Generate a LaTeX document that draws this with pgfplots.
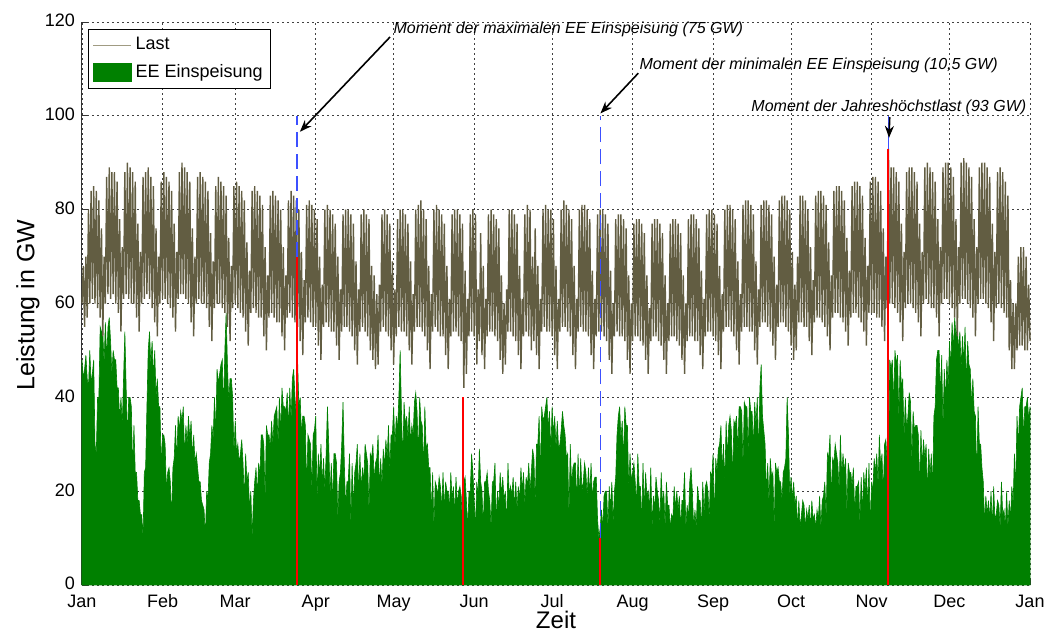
\documentclass[border=0pt]{standalone}
\usepackage{fontspec}
\setmainfont{Liberation Sans}
\usepackage{pgfplots}
\pgfplotsset{compat=1.18}
\usetikzlibrary{arrows.meta}
\definecolor{eegreen}{RGB}{0,128,0}
\definecolor{lastcol}{RGB}{98,93,66}
\definecolor{lastleg}{RGB}{160,155,130}
\definecolor{mblue}{RGB}{60,80,255}
\begin{document}
\begin{tikzpicture}
\begin{axis}[
 at={(0,0)}, anchor=south west,
 scale only axis, width=474pt, height=281.5pt,
 xmin=0, xmax=365, ymin=0, ymax=120,
 axis lines=left, axis line style={-, black!80, line width=0.5pt},
 xtick={0,31,59,90,120,151,181,212,243,273,304,334,365},
 xticklabels={Jan,Feb,Mar,Apr,May,Jun,Jul,Aug,Sep,Oct,Nov,Dec,Jan},
 ytick={0,20,...,120},
 grid=major, grid style={black!75, line width=0.4pt, dash pattern=on 1pt off 1.5pt},
 tick align=inside, major tick length=3pt, tick style={black!80, line width=0.4pt},
 /pgf/number format/assume math mode=true,
 tick label style={font=\fontsize{9}{10}\selectfont},
 xticklabel style={yshift=-1.3pt},
 yticklabel style={yshift=0.6pt},
 xlabel={Zeit}, ylabel={Leistung in GW},
 label style={font=\fontsize{12.5}{14}\selectfont},
 xlabel style={at={(axis description cs:0.5,-0.0770)}, anchor=base, font=\fontsize{12}{14}\selectfont},
 ylabel style={at={(axis description cs:-0.057,0.497)}, anchor=center},
 legend style={at={(rel axis cs:0.0063,0.9876)}, anchor=north west, draw=black, line width=0.5pt,
   font=\fontsize{9}{10}\selectfont, inner xsep=2pt, inner ysep=2pt, row sep=2pt},
 legend cell align=left,
 clip=false,
]
\addlegendimage{legend image code/.code={\draw[lastleg, line width=0.6pt] (0pt,0pt) -- (19pt,0pt);}}
\addlegendentry{Last}
\addlegendimage{legend image code/.code={\fill[eegreen] (0pt,-4.5pt) rectangle (19pt,4.5pt);}}
\addlegendentry{EE Einspeisung}

% EE Einspeisung (2 values per day)
\addplot[fill=eegreen, draw=eegreen, line width=0.3pt, forget plot] table[row sep=\\, header=false, x expr=\coordindex*0.5, y index=0] {
48\\44\\46\\49\\44\\42\\50\\43\\45\\48\\30\\28\\40\\40\\
55\\54\\54\\47\\56\\48\\55\\57\\52\\45\\50\\48\\48\\42\\
42\\35\\40\\34\\44\\54\\42\\31\\40\\40\\38\\24\\34\\24\\
24\\18\\18\\15\\15\\10\\24\\25\\38\\50\\54\\47\\52\\44\\
50\\40\\44\\38\\38\\25\\32\\32\\30\\20\\24\\25\\22\\14\\
25\\27\\34\\26\\36\\33\\37\\35\\38\\27\\34\\30\\36\\31\\
35\\27\\32\\26\\28\\25\\22\\22\\18\\17\\16\\10\\20\\18\\
26\\28\\34\\31\\40\\32\\46\\43\\45\\47\\48\\37\\50\\58\\
47\\39\\44\\44\\40\\28\\35\\28\\30\\26\\28\\31\\26\\18\\
28\\22\\24\\16\\20\\10\\18\\22\\25\\19\\26\\23\\32\\32\\
30\\18\\34\\32\\32\\29\\35\\30\\36\\37\\38\\30\\40\\32\\
42\\38\\38\\37\\41\\33\\42\\35\\44\\46\\40\\36\\48\\38\\
40\\32\\36\\36\\34\\20\\32\\31\\30\\20\\32\\33\\36\\18\\
28\\23\\30\\21\\27\\20\\28\\38\\30\\19\\26\\17\\28\\28\\
26\\14\\22\\24\\30\\39\\26\\16\\22\\22\\28\\12\\26\\16\\
24\\26\\30\\19\\28\\20\\25\\22\\30\\28\\26\\15\\28\\27\\
30\\22\\26\\27\\32\\20\\27\\21\\29\\25\\31\\27\\34\\24\\
32\\32\\38\\29\\36\\33\\40\\50\\37\\26\\39\\34\\36\\31\\
38\\30\\34\\32\\39\\41\\37\\27\\40\\35\\34\\24\\38\\29\\
30\\25\\25\\15\\24\\12\\22\\21\\19\\23\\21\\16\\24\\16\\
22\\20\\20\\16\\24\\18\\21\\15\\23\\17\\20\\21\\19\\12\\
22\\23\\18\\12\\20\\20\\28\\24\\18\\12\\22\\19\\29\\22\\
20\\12\\22\\22\\24\\20\\18\\12\\22\\22\\26\\13\\20\\16\\
24\\19\\23\\18\\20\\12\\26\\19\\21\\19\\23\\16\\22\\16\\
21\\18\\25\\20\\24\\17\\23\\21\\26\\20\\24\\29\\27\\17\\
30\\30\\36\\23\\38\\35\\36\\38\\40\\33\\37\\28\\38\\32\\
36\\29\\35\\29\\30\\33\\37\\34\\32\\27\\28\\14\\30\\21\\
25\\26\\26\\17\\28\\18\\27\\20\\22\\26\\24\\19\\25\\19\\
26\\18\\22\\23\\23\\14\\10\\12\\16\\12\\19\\20\\20\\12\\
21\\16\\22\\13\\20\\23\\32\\36\\38\\31\\35\\26\\38\\34\\
34\\20\\28\\22\\24\\26\\22\\17\\28\\21\\21\\13\\26\\16\\
24\\19\\20\\16\\25\\12\\19\\16\\23\\20\\18\\13\\24\\17\\
20\\12\\22\\17\\17\\12\\15\\14\\21\\16\\20\\16\\19\\12\\
18\\18\\24\\12\\17\\14\\22\\25\\20\\12\\16\\12\\21\\18\\
18\\12\\22\\15\\21\\22\\20\\14\\24\\23\\28\\13\\27\\24\\
29\\30\\34\\24\\30\\21\\35\\27\\34\\36\\33\\22\\35\\34\\
36\\28\\38\\38\\37\\25\\39\\38\\38\\28\\40\\37\\37\\29\\
39\\34\\40\\27\\42\\47\\36\\33\\30\\19\\26\\17\\27\\23\\
24\\12\\26\\24\\25\\22\\22\\18\\24\\25\\27\\40\\32\\19\\
23\\18\\22\\17\\19\\12\\18\\12\\15\\18\\17\\12\\16\\14\\
17\\12\\18\\14\\15\\12\\16\\14\\19\\12\\18\\19\\22\\14\\
28\\27\\32\\18\\27\\26\\30\\28\\26\\20\\32\\23\\28\\24\\
27\\15\\26\\24\\24\\21\\25\\15\\21\\21\\22\\13\\23\\15\\
24\\20\\25\\16\\26\\12\\22\\20\\27\\24\\28\\21\\32\\25\\
28\\19\\30\\31\\26\\20\\48\\46\\48\\38\\50\\47\\49\\35\\
48\\42\\44\\31\\40\\33\\36\\41\\39\\26\\37\\33\\34\\34\\
32\\20\\33\\25\\31\\27\\30\\19\\29\\23\\28\\20\\36\\38\\
48\\50\\50\\40\\49\\33\\46\\39\\48\\42\\52\\46\\56\\50\\
57\\53\\55\\50\\54\\46\\53\\47\\55\\42\\52\\47\\46\\38\\
44\\37\\36\\22\\38\\30\\30\\25\\22\\13\\19\\15\\18\\14\\
20\\12\\21\\14\\15\\18\\17\\12\\22\\15\\16\\12\\20\\12\\
18\\14\\21\\17\\28\\20\\36\\29\\38\\40\\42\\31\\38\\38\\
40\\35\\38\\
} \closedcycle;

% Last (night trough and daily peak)
\addplot[lastcol, line width=0.7pt, forget plot] table[row sep=\\, header=false, x expr=\coordindex*0.5, y index=0] {
60\\68\\55\\70\\57\\80\\60\\84\\61\\85\\60\\84\\59\\82\\
57\\76\\53\\70\\60\\87\\62\\89\\61\\88\\62\\88\\60\\86\\
58\\78\\54\\72\\61\\88\\62\\90\\61\\89\\60\\88\\60\\86\\
57\\77\\54\\71\\60\\87\\61\\88\\62\\89\\61\\87\\59\\85\\
56\\76\\53\\70\\60\\86\\61\\88\\61\\87\\60\\86\\59\\84\\
57\\77\\54\\71\\61\\88\\62\\90\\62\\89\\61\\88\\60\\86\\
56\\76\\53\\70\\60\\87\\61\\88\\60\\87\\60\\86\\59\\84\\
55\\75\\52\\69\\59\\85\\60\\87\\60\\86\\59\\85\\58\\83\\
55\\74\\52\\68\\59\\85\\60\\86\\59\\85\\58\\84\\57\\82\\
54\\73\\51\\67\\58\\84\\59\\85\\58\\84\\57\\83\\57\\81\\
53\\72\\50\\66\\57\\83\\58\\84\\57\\83\\56\\82\\56\\80\\
53\\72\\50\\66\\57\\82\\58\\84\\57\\83\\56\\82\\55\\80\\
52\\71\\49\\65\\56\\81\\57\\82\\56\\81\\55\\80\\55\\78\\
51\\70\\48\\64\\55\\80\\56\\81\\55\\80\\54\\79\\54\\77\\
51\\70\\48\\63\\54\\79\\55\\80\\55\\80\\54\\79\\53\\77\\
50\\69\\47\\63\\54\\79\\55\\80\\54\\79\\53\\78\\50\\68\\
48\\66\\46\\62\\47\\64\\54\\79\\55\\80\\54\\79\\53\\77\\
50\\69\\47\\63\\53\\78\\55\\80\\54\\80\\54\\79\\53\\77\\
50\\69\\47\\62\\54\\80\\55\\81\\55\\82\\54\\80\\53\\78\\
50\\68\\46\\62\\54\\80\\55\\81\\54\\80\\53\\79\\53\\77\\
49\\68\\46\\61\\53\\79\\54\\80\\54\\80\\53\\79\\52\\77\\
42\\67\\45\\61\\53\\79\\54\\80\\53\\79\\47\\63\\52\\75\\
49\\68\\46\\61\\53\\79\\54\\80\\54\\79\\53\\78\\52\\76\\
48\\66\\45\\60\\47\\63\\54\\80\\54\\80\\53\\79\\52\\77\\
49\\68\\46\\61\\53\\79\\54\\81\\53\\80\\50\\70\\52\\76\\
49\\68\\46\\61\\54\\80\\55\\81\\54\\80\\54\\80\\53\\78\\
49\\68\\46\\61\\54\\80\\55\\82\\55\\81\\54\\80\\53\\78\\
49\\68\\46\\61\\54\\80\\55\\81\\54\\81\\54\\80\\53\\78\\
49\\67\\46\\61\\53\\79\\54\\80\\54\\80\\53\\79\\52\\77\\
48\\67\\45\\60\\53\\78\\54\\79\\53\\79\\53\\78\\52\\76\\
48\\66\\45\\60\\52\\77\\53\\78\\53\\78\\52\\77\\51\\75\\
48\\66\\45\\59\\52\\77\\53\\78\\53\\78\\52\\77\\51\\75\\
48\\66\\45\\60\\52\\77\\53\\78\\53\\78\\52\\77\\51\\75\\
48\\66\\45\\60\\52\\78\\53\\79\\53\\79\\52\\78\\52\\76\\
49\\67\\46\\61\\53\\79\\54\\80\\54\\80\\53\\79\\52\\77\\
49\\68\\46\\62\\54\\80\\55\\81\\55\\81\\54\\80\\53\\78\\
50\\69\\47\\62\\54\\81\\55\\82\\55\\82\\54\\81\\54\\79\\
50\\69\\47\\63\\55\\81\\56\\82\\56\\82\\55\\81\\54\\79\\
51\\70\\48\\64\\55\\82\\56\\83\\56\\83\\55\\82\\54\\80\\
51\\71\\48\\64\\50\\70\\56\\83\\56\\83\\55\\82\\55\\80\\
52\\72\\49\\65\\56\\83\\57\\84\\57\\84\\56\\83\\55\\81\\
53\\73\\50\\66\\57\\84\\58\\85\\58\\85\\57\\84\\56\\82\\
54\\74\\51\\67\\57\\85\\58\\86\\58\\86\\57\\85\\56\\83\\
54\\74\\51\\68\\58\\86\\58\\87\\58\\87\\57\\86\\57\\84\\
55\\76\\52\\70\\59\\93\\60\\89\\60\\89\\59\\88\\58\\86\\
56\\77\\52\\71\\59\\88\\60\\89\\60\\89\\59\\88\\58\\86\\
56\\77\\53\\71\\60\\89\\61\\90\\60\\89\\59\\88\\59\\86\\
57\\78\\53\\72\\60\\89\\61\\90\\61\\90\\60\\89\\59\\87\\
57\\78\\53\\72\\60\\90\\61\\91\\61\\90\\60\\89\\59\\87\\
57\\78\\53\\72\\60\\89\\61\\90\\61\\90\\60\\89\\59\\87\\
56\\77\\52\\71\\59\\88\\60\\89\\59\\88\\58\\86\\57\\83\\
50\\65\\46\\60\\46\\60\\50\\70\\51\\72\\51\\72\\50\\70\\
50\\64\\52\\
};

% Markierungen
\addplot[mblue, line width=0.6pt, dash pattern=on 7.5pt off 3.5pt, forget plot] coordinates {(82.8,70) (82.8,100)};
\addplot[red, line width=1pt, forget plot] coordinates {(82.8,0) (82.8,70)};
\addplot[red, line width=1pt, forget plot] coordinates {(146.7,0) (146.7,40)};
\addplot[mblue, line width=0.6pt, dash pattern=on 7.5pt off 3.5pt, forget plot] coordinates {(199.5,10) (199.5,100)};
\addplot[red, line width=1pt, forget plot] coordinates {(199.5,0) (199.5,10)};
\addplot[mblue, line width=0.6pt, forget plot] coordinates {(310.5,93) (310.5,100)};
\addplot[red, line width=1pt, forget plot] coordinates {(310.5,0) (310.5,93)};

\draw[-{Stealth[length=6pt,width=4.5pt]}, line width=0.8pt] (axis cs:118.6,116.8) -- (axis cs:83.9,96.6);
\draw[-{Stealth[length=6pt,width=4.5pt]}, line width=0.8pt] (axis cs:214.2,109.1) -- (axis cs:199.6,100.5);
\draw[-{Stealth[length=6pt,width=4.5pt]}, line width=0.8pt] (axis cs:311.0,99.7) -- (axis cs:310.7,95.3);
\node[anchor=base west, inner sep=0pt, font=\itshape\fontsize{8}{9}\selectfont] at (axis cs:119.8,117.6) {Moment der maximalen EE Einspeisung (75 GW)};
\node[anchor=base west, inner sep=0pt, font=\itshape\fontsize{8}{9}\selectfont] at (axis cs:214.5,109.8) {Moment der minimalen EE Einspeisung (10,5 GW)};
\node[anchor=base east, inner sep=0pt, font=\itshape\fontsize{8}{9}\selectfont] at (axis cs:363.7,100.9) {Moment der Jahreshöchstlast (93 GW)};
\end{axis}
\pgfresetboundingbox
\useasboundingbox (-41pt,-23.5pt) rectangle (482pt,292.5pt);
\end{tikzpicture}
\end{document}
